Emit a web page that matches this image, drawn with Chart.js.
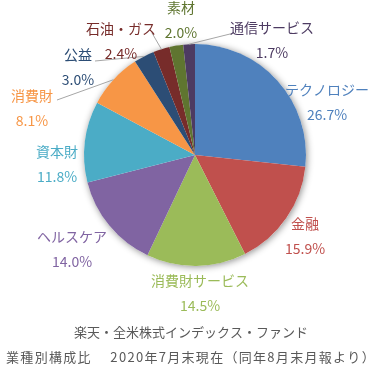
<!DOCTYPE html>
<html>
<head>
<meta charset="utf-8">
<script src="https://cdn.jsdelivr.net/npm/chart.js@4"></script>
<style>
  html, body { margin: 0; padding: 0; background: #fff; }
  #wrap { position: relative; width: 382px; height: 369px; }
</style>
</head>
<body>
<div id="wrap"><canvas id="c" width="382" height="369"></canvas></div>
<script>
const sectors = ["テクノロジー", "金融", "消費財サービス", "ヘルスケア", "資本財", "消費財", "公益", "石油・ガス", "素材", "通信サービス"];
const weights = [26.7, 15.9, 14.5, 14.0, 11.8, 8.1, 3.0, 2.4, 2.0, 1.7];
const sliceColors = ["#4F81BD", "#C0504D", "#9BBB59", "#8064A2", "#4BACC6", "#F79646", "#2C4D75", "#772C2A", "#5F7530", "#4D3B62"];
const titleLines = ["楽天・全米株式インデックス・ファンド", "業種別構成比　 2020年7月末現在（同年8月末月報より）"];

// where each label sits (name line centre), and where its leader line starts (null = no line)
const labelPos = [[327, 90], [305, 224], [200, 281], [72, 237], [57, 152], [32, 96], [78, 55], [121, 29], [181, 8], [272, 28]];
const leaderFrom = [null, null, null, null, null, [57, 100], [95, 61], [152, 33], null, [234, 33]];

const FONT = '"Noto Sans CJK JP", "Noto Sans", sans-serif';

const shadowPlugin = {
    id: "pieShadow",
    beforeDatasetsDraw(chart) {
        const arc = chart.getDatasetMeta(0).data[0];
        if (!arc) return;
        const { x, y, outerRadius } = arc.getProps(["x", "y", "outerRadius"], true);
        const ctx = chart.ctx;
        ctx.save();
        ctx.shadowColor = "rgba(0,0,0,0.45)";
        ctx.shadowBlur = 7;
        ctx.shadowOffsetX = 1;
        ctx.shadowOffsetY = 1;
        ctx.fillStyle = "#fff";
        ctx.beginPath();
        ctx.arc(x, y, outerRadius, 0, Math.PI * 2);
        ctx.fill();
        ctx.restore();
    }
};

const labelPlugin = {
    id: "sectorLabels",
    afterDatasetsDraw(chart) {
        const ctx = chart.ctx;
        const meta = chart.getDatasetMeta(0);
        ctx.save();
        meta.data.forEach((arc, i) => {
            const p = arc.getProps(["x", "y", "startAngle", "endAngle", "outerRadius"], true);
            const mid = (p.startAngle + p.endAngle) / 2;
            const ex = p.x + Math.cos(mid) * p.outerRadius;
            const ey = p.y + Math.sin(mid) * p.outerRadius;
            if (leaderFrom[i]) {
                ctx.strokeStyle = "#A6A6A6";
                ctx.lineWidth = 1;
                ctx.beginPath();
                ctx.moveTo(leaderFrom[i][0], leaderFrom[i][1]);
                ctx.lineTo(ex, ey);
                ctx.stroke();
            }
            const [lx, ly] = labelPos[i];
            ctx.fillStyle = sliceColors[i];
            ctx.textAlign = "center";
            ctx.textBaseline = "middle";
            ctx.font = "14px " + FONT;
            ctx.fillText(sectors[i], lx, ly);
            ctx.fillText(weights[i].toFixed(1) + "%", lx, ly + 25);
        });
        // title lines under the pie
        ctx.fillStyle = "#595959";
        ctx.font = "13px " + FONT;
        ctx.fillText(titleLines[0], 191, 332);
        ctx.letterSpacing = "1.3px";
        ctx.fillText(titleLines[1], 191, 357);
        ctx.restore();
    }
};

new Chart(document.getElementById("c").getContext("2d"), {
    type: "pie",
    data: {
        labels: sectors,
        datasets: [{
            data: weights,
            backgroundColor: sliceColors,
            borderWidth: 0
        }]
    },
    options: {
        responsive: false,
        animation: false,
        rotation: 0,
        layout: { padding: { left: 84, right: 76, top: 44, bottom: 103 } },
        plugins: {
            legend: { display: false },
            tooltip: { enabled: false },
            title: { display: false }
        }
    },
    plugins: [shadowPlugin, labelPlugin]
});
</script>
</body>
</html>
